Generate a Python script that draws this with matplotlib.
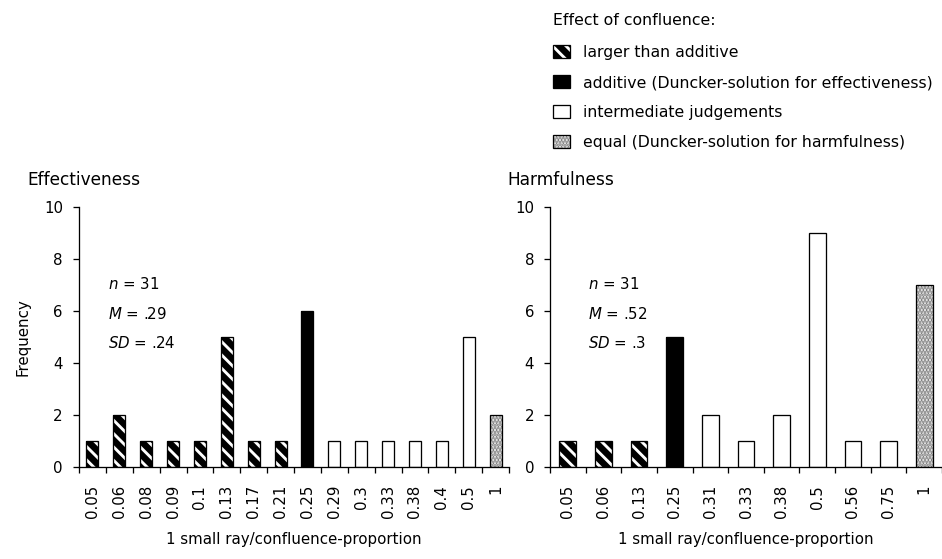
import matplotlib
matplotlib.use("Agg")
import matplotlib.pyplot as plt
from matplotlib.patches import Patch

# ---------------- data ----------------
eff_categories = ["0.05", "0.06", "0.08", "0.09", "0.1", "0.13", "0.17", "0.21",
                  "0.25", "0.29", "0.3", "0.33", "0.38", "0.4", "0.5", "1"]
eff_values = [1, 2, 1, 1, 1, 5, 1, 1, 6, 1, 1, 1, 1, 1, 5, 2]
eff_types = ["larger"] * 8 + ["additive"] + ["intermediate"] * 6 + ["equal"]

harm_categories = ["0.05", "0.06", "0.13", "0.25", "0.31", "0.33", "0.38",
                   "0.5", "0.56", "0.75", "1"]
harm_values = [1, 1, 1, 5, 2, 1, 2, 9, 1, 1, 7]
harm_types = ["larger"] * 3 + ["additive"] + ["intermediate"] * 6 + ["equal"]

eff_stats = ["31", ".29", ".24"]
harm_stats = ["31", ".52", ".3"]

legend_labels = ["larger than additive",
                 "additive (Duncker-solution for effectiveness)",
                 "intermediate judgements",
                 "equal (Duncker-solution for harmfulness)"]

# ---------------- style ----------------
DPI = 80
def pt(px):
    return px * 72.0 / DPI

plt.rcParams["font.family"] = ["DejaVu Sans"]
plt.rcParams["hatch.linewidth"] = 2.6
plt.rcParams["mathtext.fontset"] = "custom"
plt.rcParams["mathtext.it"] = "DejaVu Sans:italic"
plt.rcParams["mathtext.rm"] = "DejaVu Sans"

FS = pt(15)
LEG_FS = pt(15.8)
TITLE_FS = pt(17)
STRIPES = "\\\\"

fig = plt.figure(figsize=(942 / DPI, 559 / DPI), dpi=DPI)
fig.patch.set_facecolor("white")

W, H = 942.0, 559.0
ax1 = fig.add_axes([79 / W, 1 - 467 / H, 430 / W, 260 / H])
ax2 = fig.add_axes([550 / W, 1 - 467 / H, 392 / W, 260 / H])


def draw_bars(ax, values, types, width):
    xs = list(range(len(values)))
    for x, v, t in zip(xs, values, types):
        if t == "larger":
            ax.bar(x, v, width, facecolor="black", edgecolor="black", linewidth=0)
            ax.bar(x, v, width, facecolor="none", edgecolor="white",
                   hatch=STRIPES, linewidth=0)
        elif t == "additive":
            ax.bar(x, v, width, facecolor="black", edgecolor="black", linewidth=0)
        elif t == "intermediate":
            ax.bar(x, v, width, facecolor="white", edgecolor="black", linewidth=0)
        else:
            ax.bar(x, v, width, facecolor="#f4f4f4", edgecolor="#808080",
                   hatch="....", linewidth=0)
        ax.bar(x, v, width, fill=False, edgecolor="black", linewidth=pt(1.3))


def style_axes(ax, cats, title, stats, title_x):
    n = len(cats)
    ax.set_xlim(-0.5, n - 0.5)
    ax.set_ylim(0, 10)
    ax.set_yticks([0, 2, 4, 6, 8, 10])
    ax.set_xticks(range(n))
    ax.set_xticklabels(cats, rotation=90, fontsize=FS)
    ax.set_xticks([i - 0.5 for i in range(n + 1)], minor=True)
    ax.tick_params(axis="x", which="major", length=0, pad=pt(18))
    ax.tick_params(axis="x", which="minor", length=pt(6), width=pt(1.3),
                   direction="out")
    ax.tick_params(axis="y", length=pt(6), width=pt(1.3), pad=pt(10),
                   labelsize=FS)
    for s in ["top", "right"]:
        ax.spines[s].set_visible(False)
    for s in ["left", "bottom"]:
        ax.spines[s].set_linewidth(pt(1.3))
    ax.set_xlabel("1 small ray/confluence-proportion", fontsize=FS, labelpad=pt(14))
    ax.set_title(title, loc="left", fontsize=TITLE_FS, x=title_x, pad=pt(22))
    ax.text(0.58, 7.04, r"$\mathit{n}$ = " + stats[0], fontsize=FS, va="center")
    ax.text(0.58, 5.9, r"$\mathit{M}$ = " + stats[1], fontsize=FS, va="center")
    ax.text(0.58, 4.77, r"$\mathit{SD}$ = " + stats[2], fontsize=FS, va="center")


draw_bars(ax1, eff_values, eff_types, 0.45)
draw_bars(ax2, harm_values, harm_types, 0.47)
style_axes(ax1, eff_categories, "Effectiveness", eff_stats, -0.12)
style_axes(ax2, harm_categories, "Harmfulness", harm_stats, -0.108)
ax1.set_ylabel("Frequency", fontsize=FS, labelpad=pt(14))

# ---------------- legend ----------------
h_larger = (Patch(facecolor="black", edgecolor="black", linewidth=0),
            Patch(facecolor="none", edgecolor="white", hatch=STRIPES, linewidth=0),
            Patch(fill=False, edgecolor="black", linewidth=pt(1.3)))
h_add = Patch(facecolor="black", edgecolor="black", linewidth=pt(1.3))
h_int = Patch(facecolor="white", edgecolor="black", linewidth=pt(1.3))
h_eq = (Patch(facecolor="#f4f4f4", edgecolor="#808080", hatch="....", linewidth=0),
        Patch(fill=False, edgecolor="black", linewidth=pt(1.3)))

leg = fig.legend([h_larger, h_add, h_int, h_eq], legend_labels,
                 loc="upper left", bbox_to_anchor=(553 / W, 1 - 13 / H),
                 frameon=False, fontsize=LEG_FS, title="Effect of confluence:",
                 title_fontsize=LEG_FS, alignment="left",
                 handlelength=1.05, handleheight=0.85, handletextpad=0.85,
                 labelspacing=0.95, borderpad=0, borderaxespad=0)
leg._legend_box.sep = pt(17)

fig.savefig("out.png", dpi=DPI)
